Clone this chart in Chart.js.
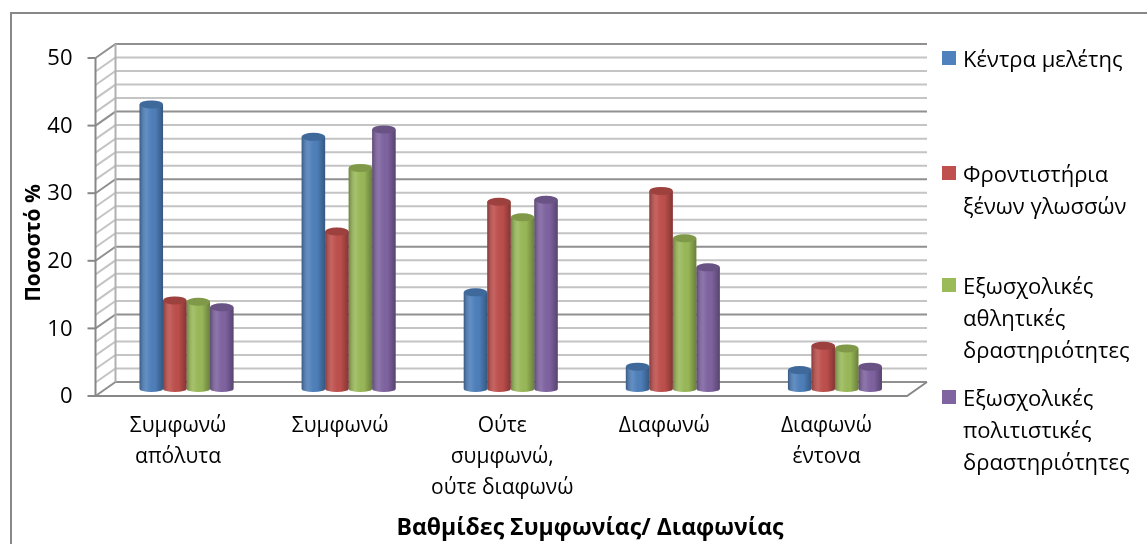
<!DOCTYPE html>
<html>
<head>
<meta charset="utf-8">
<script src="https://cdn.jsdelivr.net/npm/chart.js@4.4.1/dist/chart.umd.min.js"></script>
<style>
  html, body { margin: 0; padding: 0; background: #fff; }
  #wrap { position: relative; width: 1147px; height: 544px; overflow: hidden; }
  #chart { position: absolute; left: 0; top: 0; }
  .item { position: absolute; left: 942px; font: 22px "Open Sans", sans-serif; line-height: 32px; color: #000; }
  .item i { position: absolute; left: 0; top: 9px; width: 14px; height: 14px; }
  .item span { display: block; margin-left: 21px; white-space: nowrap; }
</style>
</head>
<body>
<div id="wrap">
  <canvas id="chart" width="1147" height="544"></canvas>
  <div id="legend"></div>
</div>
<script>
// categories (one array per label, one entry per line)
const categories = [
  ["Συμφωνώ", "απόλυτα"],
  ["Συμφωνώ"],
  ["Ούτε", "συμφωνώ,", "ούτε διαφωνώ"],
  ["Διαφωνώ"],
  ["Διαφωνώ", "έντονα"]
];

// series values, %
const studyCenters   = [42.1, 37.3, 14.3, 3.3, 2.8];
const languageSchools = [13.1, 23.3, 27.7, 29.3, 6.4];
const sportsActivities = [12.9, 32.7, 25.4, 22.3, 6.0];
const cultureActivities = [12.1, 38.4, 28.0, 18.0, 3.3];

// legend labels, one entry per line
const seriesNames = [
  ["Κέντρα μελέτης"],
  ["Φροντιστήρια", "ξένων γλωσσών"],
  ["Εξωσχολικές", "αθλητικές", "δραστηριότητες"],
  ["Εξωσχολικές", "πολιτιστικές", "δραστηριότητες"]
];

const yTicks = [0, 10, 20, 30, 40, 50];
const yTitle = "Ποσοστό %";
const xTitle = "Βαθμίδες Συμφωνίας/ Διαφωνίας";

const colors = ["#4f81bd", "#c0504d", "#9bbb59", "#8064a2"];
const values = [studyCenters, languageSchools, sportsActivities, cultureActivities];

const FONT = '"Open Sans", sans-serif';

// 3d-ish walls, floor and axis titles
const walls = {
  id: "walls",
  beforeDraw(chart){
    const {ctx, chartArea: a} = chart;
    const y = chart.scales.y;
    const L = a.left, R = a.right;
    ctx.save();
    ctx.fillStyle = "#fff";
    ctx.fillRect(0, 0, chart.width, chart.height);
    ctx.strokeStyle = "#888";
    ctx.lineWidth = 2;
    ctx.strokeRect(11, 13, chart.width + 40, chart.height + 40);

    for (let v = 0; v <= 50; v += 2) {
      const py = y.getPixelForValue(v);
      ctx.strokeStyle = v % 10 === 0 ? "#909090" : "#c4c4c4";
      ctx.beginPath();
      ctx.moveTo(L - 10, py + 7);
      ctx.lineTo(L + 10, py - 7);
      ctx.lineTo(R + 11, py - 7);
      ctx.stroke();
    }
    const y0 = y.getPixelForValue(0), y50 = y.getPixelForValue(50);
    ctx.strokeStyle = "#888";
    ctx.beginPath();
    ctx.moveTo(L - 10, y50 + 7);
    ctx.lineTo(L - 10, y0 + 7);
    ctx.lineTo(R - 9, y0 + 7);
    ctx.lineTo(R + 11, y0 - 7);
    ctx.stroke();
    ctx.strokeStyle = "#b0b0b0";
    ctx.beginPath();
    ctx.moveTo(L + 10, y50 - 7);
    ctx.lineTo(L + 10, y0 - 7);
    ctx.stroke();
    ctx.strokeStyle = "#888";
    yTicks.forEach(v => {
      const py = y.getPixelForValue(v) + 7;
      ctx.beginPath();
      ctx.moveTo(L - 18, py);
      ctx.lineTo(L - 10, py);
      ctx.stroke();
    });
    ctx.restore();
  },
  afterDraw(chart){
    const ctx = chart.ctx;
    ctx.save();
    ctx.fillStyle = "#000";
    ctx.textAlign = "center";
    ctx.textBaseline = "middle";
    ctx.font = "bold 23px " + FONT;
    ctx.fillText(xTitle, 590, 528);
    ctx.font = "bold 21px " + FONT;
    ctx.translate(34, 243);
    ctx.rotate(-Math.PI / 2);
    ctx.fillText(yTitle, 0, 0);
    ctx.restore();
  }
};

// cylinder shading on top of the flat bars
const cylinders = {
  id: "cylinders",
  afterDatasetsDraw(chart){
    const ctx = chart.ctx;
    ctx.save();
    chart.data.datasets.forEach((ds, i) => {
      chart.getDatasetMeta(i).data.forEach(bar => {
        const w = bar.width, x0 = bar.x - w / 2, top = bar.y, base = bar.base;
        const g = ctx.createLinearGradient(x0, 0, x0 + w, 0);
        g.addColorStop(0, "rgba(0,0,0,0.30)");
        g.addColorStop(0.3, "rgba(255,255,255,0.10)");
        g.addColorStop(0.65, "rgba(0,0,0,0.02)");
        g.addColorStop(1, "rgba(0,0,0,0.32)");
        // bottom round
        ctx.fillStyle = ds.backgroundColor;
        ctx.beginPath();
        ctx.ellipse(bar.x, base, w / 2, 3, 0, 0, Math.PI);
        ctx.fill();
        ctx.fillStyle = g;
        ctx.beginPath();
        ctx.moveTo(x0, top);
        ctx.lineTo(x0, base);
        ctx.ellipse(bar.x, base, w / 2, 3, 0, Math.PI, 0, true);
        ctx.lineTo(x0 + w, top);
        ctx.closePath();
        ctx.fill();
        // top cap
        ctx.fillStyle = ds.backgroundColor;
        ctx.beginPath();
        ctx.ellipse(bar.x, top, w / 2, 4, 0, 0, Math.PI * 2);
        ctx.fill();
        ctx.fillStyle = "rgba(0,0,0,0.18)";
        ctx.fill();
      });
    });
    ctx.restore();
  }
};

new Chart(document.getElementById("chart"), {
  type: "bar",
  data: {
    labels: categories,
    datasets: values.map((v, i) => ({
      label: seriesNames[i].join(" "),
      data: v,
      backgroundColor: colors[i],
      borderWidth: 0,
      barPercentage: 1,
      categoryPercentage: 0.58
    }))
  },
  options: {
    responsive: false,
    animation: false,
    layout: { padding: { left: 0, right: 231, top: 51, bottom: 0 } },
    plugins: { legend: { display: false }, tooltip: { enabled: false } },
    scales: {
      x: {
        grid: { display: false, drawTicks: false },
        border: { display: false },
        ticks: {
          color: "#000",
          font: { family: FONT, size: 21, lineHeight: "31px" },
          padding: 22,
          labelOffset: -8.5,
          maxRotation: 0,
          autoSkip: false
        },
        afterFit: s => { s.height = 155; }
      },
      y: {
        min: 0,
        max: 50,
        grid: { display: false, drawTicks: false },
        border: { display: false },
        ticks: {
          stepSize: 10,
          color: "#000",
          font: { family: FONT, size: 22 },
          padding: 33,
          labelOffset: 8
        },
        afterFit: s => { s.width = 105.5; }
      }
    }
  },
  plugins: [walls, cylinders]
});

// html legend
const legendTops = [42, 157, 269, 381];
const legendEl = document.getElementById("legend");
seriesNames.forEach((lines, i) => {
  const d = document.createElement("div");
  d.className = "item";
  d.style.top = legendTops[i] + "px";
  d.innerHTML = `<i style="background:${colors[i]}"></i>` +
    lines.map(t => `<span>${t}</span>`).join("");
  legendEl.appendChild(d);
});
</script>
</body>
</html>
